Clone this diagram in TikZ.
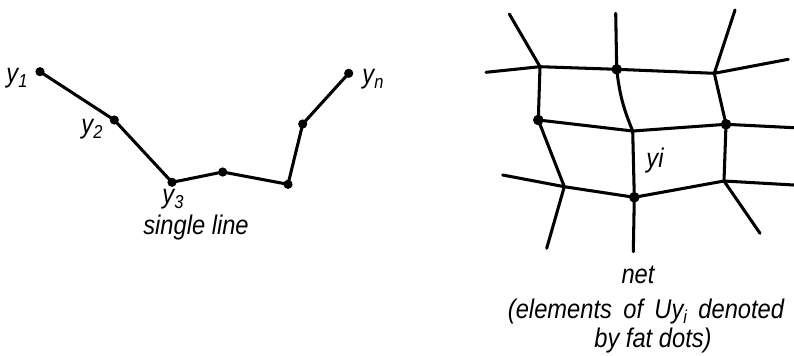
\documentclass[tikz,border=0pt]{standalone}
\usepackage{fontspec}
\setmainfont{Liberation Sans}[FakeStretch=0.88]
\newcommand{\lowidx}[1]{\raisebox{-0.35ex}{\fontsize{16}{18}\selectfont #1}}
\newcommand{\wsp}{\hspace{0.42em}}
\tikzset{
  edge/.style={line width=2.6pt, line cap=round, line join=round},
  fatdot/.style={fill=black},
  lab/.style={font=\fontsize{23}{26}\selectfont\itshape, inner sep=0pt}
}
\begin{document}
\begin{tikzpicture}[x=0.03cm, y=-0.03cm]
	\useasboundingbox (0,0) rectangle (794,355);
	
	% 1. Single line
	\coordinate (y1) at (40,71.7);
	\coordinate (y2) at (114.3,120);
	\coordinate (y3) at (172,182.3);
	\coordinate (p4) at (222.7,172);
	\coordinate (p5) at (288,184.3);
	\coordinate (p6) at (302.7,124);
	\coordinate (yn) at (348.7,73.3);
	\draw[edge] (y1) -- (y2) -- (y3) -- (p4) -- (p5) -- (p6) -- (yn);
	\foreach \p in {y1,y2,y3,p4,p5,p6,yn} {
		\fill[fatdot] (\p) circle (4.6);
	}
	\node[lab] (ly1) at (17,78) {y\lowidx{1}};
	\node[lab] (ly2) at (92,129) {y\lowidx{2}};
	\node[lab] (ly3) at (173,199) {y\lowidx{3}};
	\node[lab] (lyn) at (373,79) {y\lowidx{n}};
	\node[lab] (single) at (196,228) {single line};
	
	% 2. Net
	\coordinate (a) at (540,66.7);
	\coordinate (b) at (616.7,69.3);
	\coordinate (c) at (714.3,73.3);
	\coordinate (d) at (538.3,120);
	\coordinate (e) at (632.7,131);
	\coordinate (f) at (726,124.3);
	\coordinate (g) at (564.3,186.7);
	\coordinate (h) at (634.3,197.3);
	\coordinate (i) at (724,181);
	% free ends
	\coordinate (a1) at (509.3,14);
	\coordinate (a2) at (486,72.3);
	\coordinate (b1) at (615.7,13.3);
	\coordinate (c1) at (735,10);
	\coordinate (c2) at (788.3,59.3);
	\coordinate (f1) at (794,127.7);
	\coordinate (i1) at (794,185);
	\coordinate (i2) at (760,233.3);
	\coordinate (h1) at (633.3,251.7);
	\coordinate (g1) at (546.7,248.3);
	\coordinate (g2) at (502.7,175);
	
	\draw[edge] (a) -- (b) -- (c);
	\draw[edge] (d) -- (e) -- (f);
	\draw[edge] (g) -- (h) -- (i);
	\draw[edge] (a) -- (d) -- (g);
	\draw[edge] (b) to[bend right=8] (e);
	\draw[edge] (e) -- (h);
	\draw[edge] (c) -- (f) -- (i);
	\draw[edge] (a) -- (a1) (a) -- (a2) (b) -- (b1) (c) -- (c1) (c) -- (c2);
	\draw[edge] (f) -- (f1) (i) -- (i1) (i) -- (i2) (h) -- (h1);
	\draw[edge] (g) -- (g1) (g) -- (g2);
	\foreach \p in {b,d,f,h} {
		\fill[fatdot] (\p) circle (5.3);
	}
	\node[lab] (lyi) at (655,161) {yi};
	\node[lab] (lnet) at (638,275) {net};
	\node[lab] (lel) at (646,312) {(elements\wsp of\wsp Uy\lowidx{i}\wsp denoted};
	\node[lab] (lby) at (653,341) {by fat dots)};
\end{tikzpicture}
\end{document}
